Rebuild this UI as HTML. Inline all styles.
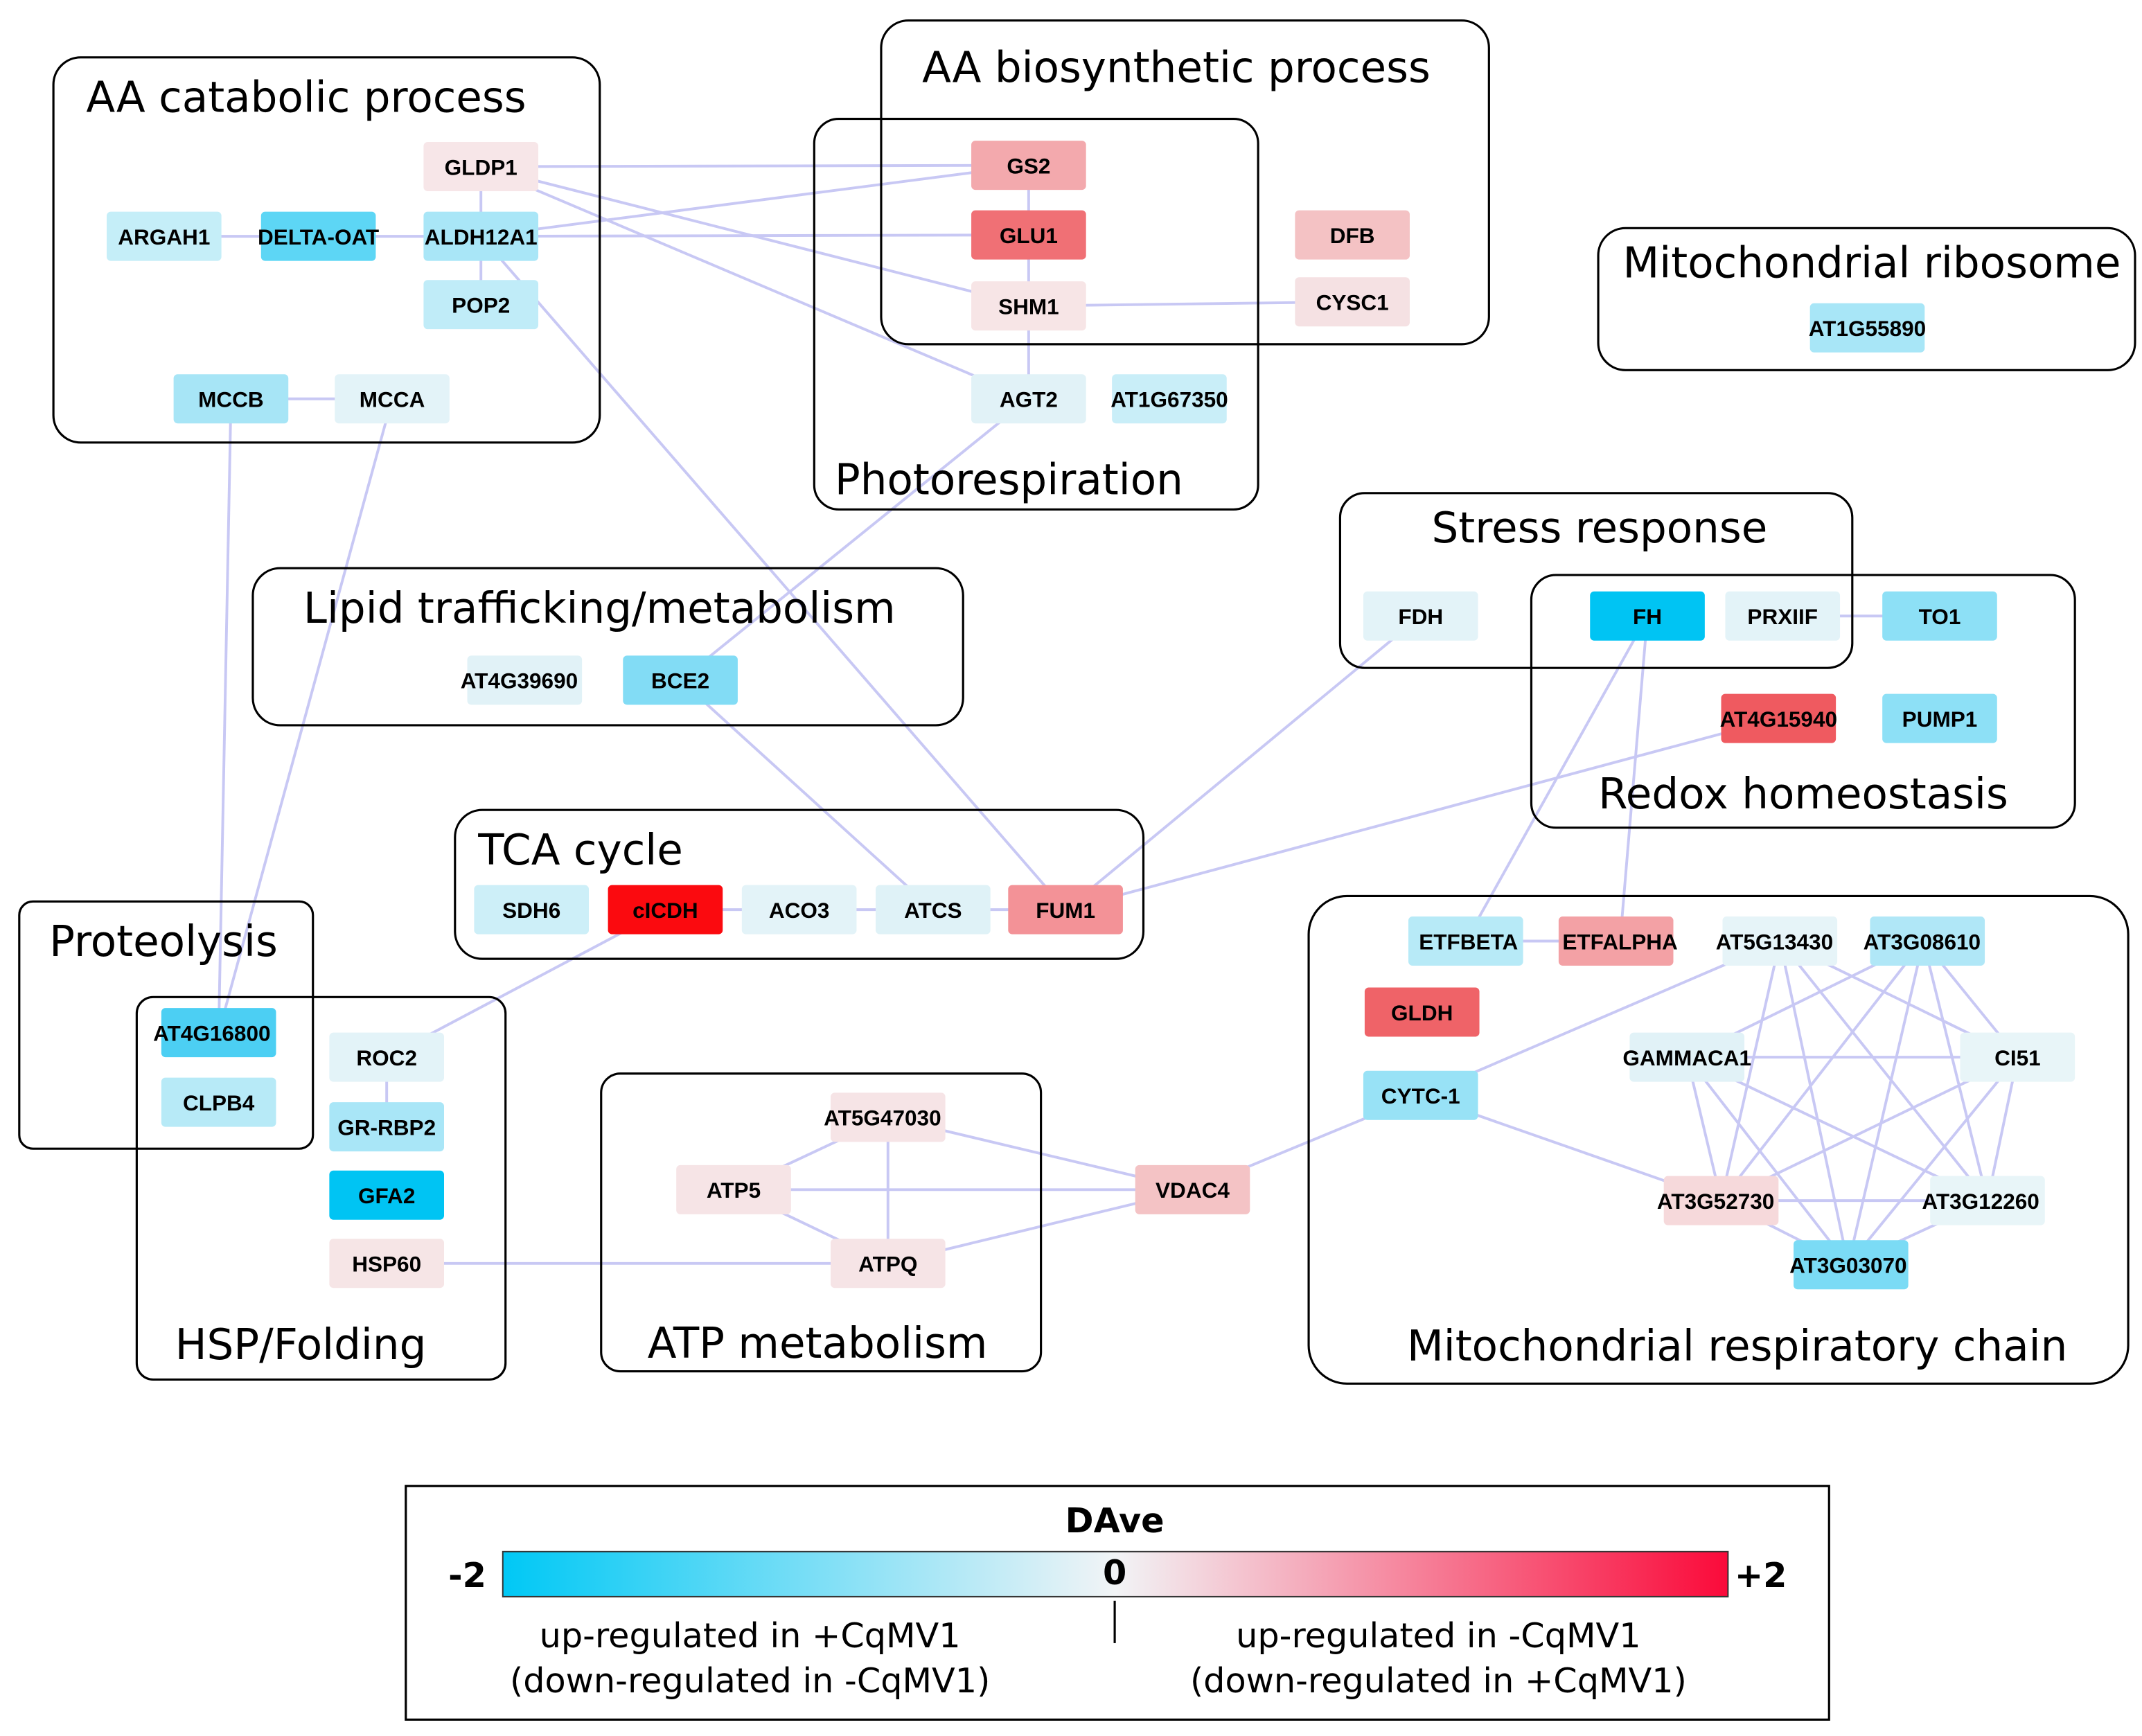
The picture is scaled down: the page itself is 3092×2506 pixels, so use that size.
<!DOCTYPE html>
<html><head><meta charset="utf-8"><style>html,body{margin:0;padding:0;background:#fff}svg{display:block}</style></head>
<body>
<svg xmlns="http://www.w3.org/2000/svg" width="3092" height="2506" viewBox="0 0 1568 1271">
<defs><linearGradient id="g" x1="0" x2="1" y1="0" y2="0"><stop offset="0" stop-color="#00c8f5"/><stop offset="0.5" stop-color="#f2f4f6"/><stop offset="1" stop-color="#fa0a3a"/></linearGradient></defs>
<g stroke="#c8c8f4" stroke-width="2" fill="none">
<line x1="352" y1="122" x2="753" y2="121"/><line x1="352" y1="122" x2="753" y2="224"/><line x1="352" y1="122" x2="753" y2="292"/>
<line x1="352" y1="173" x2="753" y2="121"/><line x1="352" y1="173" x2="753" y2="172"/><line x1="352" y1="173" x2="780" y2="666"/>
<line x1="120" y1="173" x2="352" y2="173"/><line x1="352" y1="122" x2="352" y2="223"/>
<line x1="169" y1="292" x2="287" y2="292"/><line x1="169" y1="292" x2="160" y2="756"/><line x1="287" y1="292" x2="160" y2="756"/>
<line x1="753" y1="121" x2="753" y2="292"/><line x1="753" y1="224" x2="990" y2="221"/>
<line x1="753" y1="292" x2="498" y2="498"/><line x1="498" y1="498" x2="683" y2="666"/>
<line x1="1040" y1="451" x2="780" y2="666"/><line x1="1302" y1="526" x2="780" y2="666"/>
<line x1="1305" y1="451" x2="1420" y2="451"/>
<line x1="1206" y1="451" x2="1073" y2="689"/><line x1="1206" y1="451" x2="1186" y2="689"/>
<line x1="487" y1="666" x2="780" y2="666"/><line x1="487" y1="666" x2="283" y2="774"/>
<line x1="283" y1="774" x2="283" y2="825"/><line x1="283" y1="925" x2="650" y2="925"/>
<line x1="537" y1="871" x2="650" y2="818"/><line x1="537" y1="871" x2="650" y2="925"/><line x1="537" y1="871" x2="873" y2="871"/>
<line x1="650" y1="818" x2="650" y2="925"/><line x1="650" y1="818" x2="873" y2="871"/><line x1="650" y1="925" x2="873" y2="871"/>
<line x1="873" y1="871" x2="1040" y2="802"/><line x1="1040" y1="802" x2="1303" y2="689"/><line x1="1040" y1="802" x2="1260" y2="879"/>
<line x1="1073" y1="689" x2="1186" y2="689"/>
<line x1="1235" y1="774" x2="1477" y2="774"/><line x1="1303" y1="689" x2="1477" y2="774"/><line x1="1303" y1="689" x2="1353" y2="926"/><line x1="1303" y1="689" x2="1455" y2="879"/><line x1="1303" y1="689" x2="1260" y2="879"/>
<line x1="1408" y1="689" x2="1235" y2="774"/><line x1="1408" y1="689" x2="1260" y2="879"/><line x1="1408" y1="689" x2="1353" y2="926"/><line x1="1408" y1="689" x2="1477" y2="774"/><line x1="1408" y1="689" x2="1455" y2="879"/>
<line x1="1235" y1="774" x2="1260" y2="879"/><line x1="1235" y1="774" x2="1353" y2="926"/><line x1="1235" y1="774" x2="1455" y2="879"/>
<line x1="1477" y1="774" x2="1260" y2="879"/><line x1="1477" y1="774" x2="1353" y2="926"/><line x1="1477" y1="774" x2="1455" y2="879"/>
<line x1="1260" y1="879" x2="1353" y2="926"/><line x1="1260" y1="879" x2="1455" y2="879"/><line x1="1455" y1="879" x2="1353" y2="926"/>
</g>
<g fill="none" stroke="#000" stroke-width="1.6">
<rect x="39" y="42" width="400" height="282" rx="20"/><rect x="645" y="15" width="445" height="237" rx="20"/>
<rect x="596" y="87" width="325" height="286" rx="18"/><rect x="1170" y="167" width="393" height="104" rx="20"/>
<rect x="981" y="361" width="375" height="128" rx="18"/><rect x="1121" y="421" width="398" height="185" rx="18"/>
<rect x="185" y="416" width="520" height="115" rx="20"/><rect x="333" y="593" width="504" height="109" rx="20"/>
<rect x="14" y="660" width="215" height="181" rx="10"/><rect x="100" y="730" width="270" height="280" rx="12"/>
<rect x="440" y="786" width="322" height="218" rx="14"/><rect x="958" y="656" width="600" height="357" rx="28"/>
</g>
<g font-family="'DejaVu Sans',sans-serif" font-size="31" fill="#000">
<text x="63" y="82">AA catabolic process</text><text x="675" y="60">AA biosynthetic process</text>
<text x="611" y="362">Photorespiration</text><text x="1188" y="203">Mitochondrial ribosome</text>
<text x="1048" y="397">Stress response</text><text x="1170" y="592">Redox homeostasis</text>
<text x="222" y="456">Lipid trafficking/metabolism</text><text x="350" y="633">TCA cycle</text>
<text x="36" y="700">Proteolysis</text><text x="128" y="995">HSP/Folding</text>
<text x="474" y="994">ATP metabolism</text><text x="1030" y="996">Mitochondrial respiratory chain</text>
</g>
<g font-family="'Liberation Sans',sans-serif" font-size="16" font-weight="bold" text-anchor="middle">
<g id="n"></g>
<rect x="310" y="104" width="84" height="36" rx="3" fill="#f7e6e8"/><text x="352" y="128">GLDP1</text>
<rect x="78" y="155" width="84" height="36" rx="3" fill="#c5eef8"/><text x="120" y="179">ARGAH1</text>
<rect x="191" y="155" width="84" height="36" rx="3" fill="#5dd6f5"/><text x="233" y="179">DELTA-OAT</text>
<rect x="310" y="155" width="84" height="36" rx="3" fill="#a9e6f7"/><text x="352" y="179">ALDH12A1</text>
<rect x="310" y="205" width="84" height="36" rx="3" fill="#c0ecf8"/><text x="352" y="229">POP2</text>
<rect x="127" y="274" width="84" height="36" rx="3" fill="#a7e5f6"/><text x="169" y="298">MCCB</text>
<rect x="245" y="274" width="84" height="36" rx="3" fill="#e3f3f8"/><text x="287" y="298">MCCA</text>
<rect x="711" y="103" width="84" height="36" rx="3" fill="#f3a9ad"/><text x="753" y="127">GS2</text>
<rect x="711" y="154" width="84" height="36" rx="3" fill="#f07075"/><text x="753" y="178">GLU1</text>
<rect x="711" y="206" width="84" height="36" rx="3" fill="#f7e5e6"/><text x="753" y="230">SHM1</text>
<rect x="948" y="154" width="84" height="36" rx="3" fill="#f4c2c4"/><text x="990" y="178">DFB</text>
<rect x="948" y="203" width="84" height="36" rx="3" fill="#f5e1e3"/><text x="990" y="227">CYSC1</text>
<rect x="711" y="274" width="84" height="36" rx="3" fill="#e1f2f7"/><text x="753" y="298">AGT2</text>
<rect x="814" y="274" width="84" height="36" rx="3" fill="#c9eef8"/><text x="856" y="298">AT1G67350</text>
<rect x="1325" y="222" width="84" height="36" rx="3" fill="#a8e6f7"/><text x="1367" y="246">AT1G55890</text>
<rect x="998" y="433" width="84" height="36" rx="3" fill="#e3f3f8"/><text x="1040" y="457">FDH</text>
<rect x="1164" y="433" width="84" height="36" rx="3" fill="#00c4f3"/><text x="1206" y="457">FH</text>
<rect x="1263" y="433" width="84" height="36" rx="3" fill="#e3f3f8"/><text x="1305" y="457">PRXIIF</text>
<rect x="1378" y="433" width="84" height="36" rx="3" fill="#8de0f6"/><text x="1420" y="457">TO1</text>
<rect x="1260" y="508" width="84" height="36" rx="3" fill="#ef5a60"/><text x="1302" y="532">AT4G15940</text>
<rect x="1378" y="508" width="84" height="36" rx="3" fill="#8de0f6"/><text x="1420" y="532">PUMP1</text>
<rect x="342" y="480" width="84" height="36" rx="3" fill="#e1f2f7"/><text x="380" y="504">AT4G39690</text>
<rect x="456" y="480" width="84" height="36" rx="3" fill="#82dcf5"/><text x="498" y="504">BCE2</text>
<rect x="347" y="648" width="84" height="36" rx="3" fill="#cdeff8"/><text x="389" y="672">SDH6</text>
<rect x="445" y="648" width="84" height="36" rx="3" fill="#fb0a0f"/><text x="487" y="672">cICDH</text>
<rect x="543" y="648" width="84" height="36" rx="3" fill="#e3f3f8"/><text x="585" y="672">ACO3</text>
<rect x="641" y="648" width="84" height="36" rx="3" fill="#dff2f7"/><text x="683" y="672">ATCS</text>
<rect x="738" y="648" width="84" height="36" rx="3" fill="#f39297"/><text x="780" y="672">FUM1</text>
<rect x="118" y="738" width="84" height="36" rx="3" fill="#4ccff3"/><text x="155" y="762">AT4G16800</text>
<rect x="118" y="789" width="84" height="36" rx="3" fill="#b7eaf7"/><text x="160" y="813">CLPB4</text>
<rect x="241" y="756" width="84" height="36" rx="3" fill="#e3f3f8"/><text x="283" y="780">ROC2</text>
<rect x="241" y="807" width="84" height="36" rx="3" fill="#a9e6f7"/><text x="283" y="831">GR-RBP2</text>
<rect x="241" y="857" width="84" height="36" rx="3" fill="#00c4f3"/><text x="283" y="881">GFA2</text>
<rect x="241" y="907" width="84" height="36" rx="3" fill="#f6e5e6"/><text x="283" y="931">HSP60</text>
<rect x="608" y="800" width="84" height="36" rx="3" fill="#f6e4e6"/><text x="646" y="824">AT5G47030</text>
<rect x="495" y="853" width="84" height="36" rx="3" fill="#f6e4e6"/><text x="537" y="877">ATP5</text>
<rect x="608" y="907" width="84" height="36" rx="3" fill="#f6e4e6"/><text x="650" y="931">ATPQ</text>
<rect x="831" y="853" width="84" height="36" rx="3" fill="#f4c3c5"/><text x="873" y="877">VDAC4</text>
<rect x="1031" y="671" width="84" height="36" rx="3" fill="#b7eaf7"/><text x="1075" y="695">ETFBETA</text>
<rect x="1141" y="671" width="84" height="36" rx="3" fill="#f3a1a5"/><text x="1186" y="695">ETFALPHA</text>
<rect x="1261" y="671" width="84" height="36" rx="3" fill="#e6f4f8"/><text x="1299" y="695">AT5G13430</text>
<rect x="1369" y="671" width="84" height="36" rx="3" fill="#b0e7f7"/><text x="1407" y="695">AT3G08610</text>
<rect x="999" y="723" width="84" height="36" rx="3" fill="#ef6368"/><text x="1041" y="747">GLDH</text>
<rect x="1193" y="756" width="84" height="36" rx="3" fill="#e1f2f7"/><text x="1235" y="780">GAMMACA1</text>
<rect x="1435" y="756" width="84" height="36" rx="3" fill="#e8f5f8"/><text x="1477" y="780">CI51</text>
<rect x="998" y="784" width="84" height="36" rx="3" fill="#98e2f6"/><text x="1040" y="808">CYTC-1</text>
<rect x="1218" y="861" width="84" height="36" rx="3" fill="#f6d9db"/><text x="1256" y="885">AT3G52730</text>
<rect x="1413" y="861" width="84" height="36" rx="3" fill="#e8f5f8"/><text x="1450" y="885">AT3G12260</text>
<rect x="1313" y="908" width="84" height="36" rx="3" fill="#7bdbf5"/><text x="1353" y="932">AT3G03070</text>
</g>
<rect x="297" y="1088" width="1042" height="171" fill="none" stroke="#000" stroke-width="1.6"/>
<rect x="368" y="1136" width="897" height="33" fill="url(#g)" stroke="#333" stroke-width="1"/>
<line x1="816" y1="1172" x2="816" y2="1203" stroke="#000" stroke-width="1.6"/>
<g font-family="'DejaVu Sans',sans-serif" font-weight="bold" font-size="25" text-anchor="middle">
<text x="816" y="1122">DAve</text><text x="342" y="1162">-2</text><text x="816" y="1160">0</text><text x="1289" y="1162">+2</text>
</g>
<g font-family="'DejaVu Sans',sans-serif" font-size="25" text-anchor="middle">
<text x="549" y="1206">up-regulated in +CqMV1</text><text x="549" y="1239">(down-regulated in -CqMV1)</text>
<text x="1053" y="1206">up-regulated in -CqMV1</text><text x="1053" y="1239">(down-regulated in +CqMV1)</text>
</g>
</svg>
</body></html>
